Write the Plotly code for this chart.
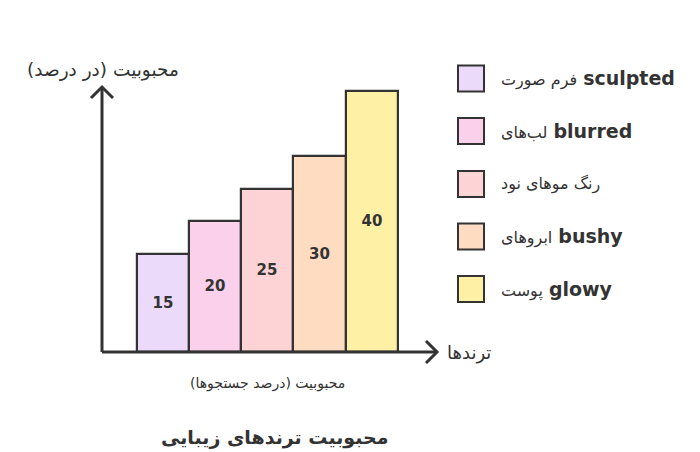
import plotly.graph_objects as go

categories = ["فرم صورت sculpted", "لب‌های blurred", "رنگ موهای نود", "ابروهای bushy", "پوست glowy"]
values = [15, 20, 25, 30, 40]
colors = ["#ECDAFB", "#FBD0EA", "#FDD3D6", "#FEDCC2", "#FEF1A6"]

OFF = 8  # page body margin
W, H = 700 - 2 * OFF, 452 - OFF
L, R, T, B = 102 - OFF, 438 - OFF, 86 - OFF, 352 - OFF
PW, PH = R - L, B - T

def px(xp):
    return (xp - OFF - L) / PW

def py(yp):
    return (B - (yp - OFF)) / PH

ink = "#333333"

fig = go.Figure()
fig.add_trace(go.Bar(
    x=list(range(len(categories))),
    y=values,
    width=1.0,
    marker=dict(color=colors, line=dict(color=ink, width=2.2)),
    text=[str(v) for v in values],
    textposition="inside",
    insidetextanchor="middle",
    textangle=0,
    textfont=dict(family="DejaVu Sans, sans-serif", size=15, color=ink, weight="bold"),
    showlegend=False,
    hoverinfo="skip",
))

shapes = []
line = dict(color=ink, width=3)
shapes.append(dict(type="line", xref="paper", yref="paper", x0=0, y0=0, x1=0, y1=py(88), line=line))
shapes.append(dict(type="line", xref="paper", yref="paper", x0=0, y0=0, x1=px(436), y1=0, line=line))
shapes.append(dict(type="path", xref="paper", yref="paper",
                   path=f"M {px(91)} {py(98)} L {px(102)} {py(87)} L {px(113)} {py(98)}", line=line))
shapes.append(dict(type="path", xref="paper", yref="paper",
                   path=f"M {px(426)} {py(341)} L {px(437)} {py(352)} L {px(426)} {py(363)}", line=line))

annotations = []
row_y = [78.5, 131, 184, 236.5, 289]
for cat, col, ry in zip(categories, colors, row_y):
    shapes.append(dict(type="rect", xref="paper", yref="paper",
                       x0=px(458), x1=px(484), y0=py(ry - 13), y1=py(ry + 13),
                       fillcolor=col, line=dict(color=ink, width=2)))
    parts = cat.split(" ")
    eng = [p for p in parts if p.isascii()]
    fa = " ".join(p for p in parts if not p.isascii())
    if eng:
        txt = f"<span style='font-size:16px'>{fa}</span> <b>{eng[0]}</b>"
    else:
        txt = f"<span style='font-size:16px'>{fa}</span>"
    annotations.append(dict(xref="paper", yref="paper", x=px(499), y=py(ry),
                            xanchor="left", yanchor="middle", showarrow=False,
                            text=txt,
                            font=dict(family="DejaVu Sans, sans-serif", size=19, color=ink)))

annotations += [
    dict(xref="paper", yref="paper", x=px(103), y=py(70), xanchor="center", yanchor="middle",
         showarrow=False, text="محبوبیت (در درصد)",
         font=dict(family="DejaVu Sans, sans-serif", size=18.5, color=ink)),
    dict(xref="paper", yref="paper", x=px(445), y=py(353), xanchor="left", yanchor="middle",
         showarrow=False, text="ترندها",
         font=dict(family="DejaVu Sans, sans-serif", size=18, color=ink)),
    dict(xref="paper", yref="paper", x=px(267), y=py(383), xanchor="center", yanchor="middle",
         showarrow=False, text="محبوبیت (درصد جستجوها)",
         font=dict(family="DejaVu Sans, sans-serif", size=14, color=ink)),
    dict(xref="paper", yref="paper", x=px(274), y=py(437), xanchor="center", yanchor="middle",
         showarrow=False, text="<b>محبوبیت ترندهای زیبایی</b>",
         font=dict(family="DejaVu Sans, sans-serif", size=19, color=ink)),
]

fig.update_layout(
    width=W, height=H,
    margin=dict(l=L, r=W - R, t=T, b=H - B, pad=0),
    paper_bgcolor="white", plot_bgcolor="white",
    xaxis=dict(range=[-1.17, 5.27], visible=False, fixedrange=True),
    yaxis=dict(range=[0, PH / 6.53], visible=False, fixedrange=True),
    shapes=shapes, annotations=annotations,
    bargap=0, showlegend=False,
)

fig.write_html(
    "out.html",
    config={"displayModeBar": False},
    post_script="document.documentElement.style.overflow='hidden';document.body.style.overflow='hidden';",
)
